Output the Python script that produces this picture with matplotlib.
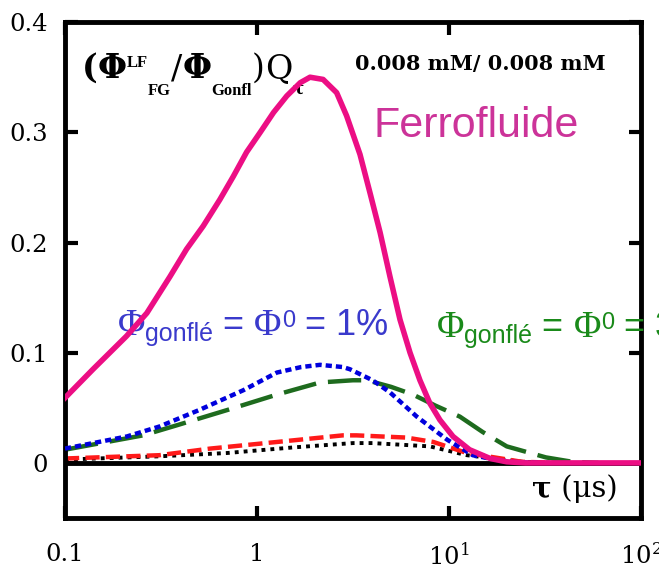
import matplotlib
matplotlib.use("Agg")
import matplotlib.pyplot as plt
from matplotlib.ticker import FixedLocator, NullLocator

plt.rcParams["mathtext.fontset"] = "dejavuserif"

# values (tau in microseconds)
tau_ferro = [0.1, 0.14, 0.209, 0.267, 0.352, 0.43, 0.525, 0.641, 0.753, 0.883, 1.04,
             1.22, 1.43, 1.68, 1.89, 2.21, 2.6, 2.93, 3.44, 3.88, 4.38, 4.93, 5.56,
             6.27, 7.06, 7.96, 8.97, 10.5, 12.8, 16.4, 20, 25, 100]
val_ferro = [0.059, 0.085, 0.115, 0.136, 0.169, 0.194, 0.215, 0.239, 0.26, 0.282, 0.30,
             0.318, 0.333, 0.345, 0.350, 0.348, 0.336, 0.315, 0.280, 0.245, 0.209,
             0.169, 0.130, 0.100, 0.075, 0.054, 0.039, 0.024, 0.012, 0.004, 0.001,
             0.0, 0.0]

tau_blue = [0.1, 0.21, 0.31, 0.5, 0.85, 1.27, 1.7, 2.13, 2.8, 3.05, 4.0, 4.93, 6.8, 9.8,
            13.3, 20, 30]
val_blue = [0.013, 0.024, 0.033, 0.048, 0.066, 0.082, 0.087, 0.089, 0.087, 0.085, 0.075,
            0.064, 0.042, 0.021, 0.007, 0.001, 0.0]

tau_green = [0.1, 0.255, 0.38, 0.7, 1.27, 2.13, 3.16, 3.74, 5.0, 6.5, 8.5, 11.4, 15, 20,
             32, 44, 60]
val_green = [0.012, 0.025, 0.034, 0.048, 0.062, 0.073, 0.075, 0.075, 0.069, 0.062, 0.052,
             0.042, 0.028, 0.015, 0.005, 0.001, 0.0]

tau_red = [0.1, 0.31, 0.57, 1.27, 2.8, 3.3, 6.0, 8.3, 12.4, 24, 40]
val_red = [0.004, 0.007, 0.013, 0.019, 0.025, 0.025, 0.023, 0.019, 0.009, 0.001, 0.0]

tau_black = [0.1, 0.31, 0.7, 1.53, 3.16, 4.0, 7.96, 12.4, 24, 40]
val_black = [0.003, 0.006, 0.009, 0.014, 0.018, 0.018, 0.015, 0.007, 0.001, 0.0]

x_ticks = [0.1, 1, 10, 100]
x_labels = ["0.1", "1", "$10^1$", "$10^2$"]
y_ticks = [0, 0.1, 0.2, 0.3, 0.4]
y_labels = ["0", "0.1", "0.2", "0.3", "0.4"]

fig = plt.figure(figsize=(6.59, 5.70), dpi=100)
ax = fig.add_axes([0.0986, 0.0912, 0.874, 0.870])

ax.axhline(0, color="black", lw=3.5, zorder=1)
ax.plot(tau_black, val_black, color="black", lw=2.8, dashes=(1.0, 1.3), zorder=2)
ax.plot(tau_red, val_red, color="#ff1a1a", lw=3.2, dashes=(3.2, 1.4), zorder=2)
ax.plot(tau_green, val_green, color="#1e6b1e", lw=3.2, dashes=(7.5, 2.7), zorder=2)
ax.plot(tau_blue, val_blue, color="#0000dd", lw=3.2, dashes=(1.4, 0.9), zorder=3)
ax.plot(tau_ferro, val_ferro, color="#ec0e84", lw=4, zorder=4)

ax.set_xscale("log")
ax.set_xlim(0.1, 100)
ax.set_ylim(-0.05, 0.4)
ax.xaxis.set_major_locator(FixedLocator(x_ticks))
ax.xaxis.set_minor_locator(NullLocator())
ax.set_xticklabels(x_labels)
ax.set_yticks(y_ticks)
ax.set_yticklabels(y_labels)
ax.tick_params(direction="in", length=9, width=3, top=True, right=True,
               labelsize=17.5)
ax.tick_params(axis="x", pad=18)
ax.tick_params(axis="y", pad=12)
for lab in ax.get_xticklabels() + ax.get_yticklabels():
    lab.set_family("DejaVu Serif")
for sp in ax.spines.values():
    sp.set_linewidth(3.5)


def chain(pieces, x, y, color="black"):
    prev = None
    for text, size, family, weight, dy in pieces:
        if prev is None:
            xy, coords = (x, y), "axes fraction"
        else:
            xy, coords = (1, y), (prev, "axes fraction")
        prev = ax.annotate(text, xy=xy, xycoords=coords, xytext=(0, dy),
                           textcoords="offset points", fontsize=size,
                           family=family, fontweight=weight, color=color,
                           ha="left", va="baseline", annotation_clip=False)


serif = "DejaVu Serif"
times = "Liberation Serif"
sans = "Liberation Sans"

chain([("(", 24, serif, "bold", 0),
       ("Φ", 24, serif, "bold", 0),
       ("LF", 12, times, "bold", 8),
       ("FG", 12, times, "bold", -12),
       ("/", 24, serif, "normal", 0),
       ("Φ", 24, serif, "bold", 0),
       ("Gonfl", 12, times, "bold", -12),
       (")", 24, serif, "normal", 0),
       ("Q", 24, serif, "normal", 0),
       ("τ", 12, serif, "bold", -11)], 0.0295, 0.887)

ax.text(0.503, 0.915, "0.008 mM/ 0.008 mM", transform=ax.transAxes,
        fontsize=15, family=serif, fontweight="bold", va="center", ha="left")
ax.text(0.535, 0.768, "Ferrofluide", transform=ax.transAxes, fontsize=31,
        family=sans, color="#cc3399", va="baseline", ha="left")

label_pieces = [("Φ", 27, times, "normal", 0),
                ("gonflé", 18, sans, "normal", -4),
                (" = ", 26, sans, "normal", 0),
                ("Φ", 27, times, "normal", 0),
                ("0", 17, sans, "normal", 6)]
chain(label_pieces + [(" = 1%", 26, sans, "normal", 0)], 0.092, 0.369,
      color="#3a3acc")
chain(label_pieces + [(" = 3%", 26, sans, "normal", 0)], 0.646, 0.365,
      color="#1a8a1a")

chain([("τ", 21, serif, "bold", 0),
       (" (μs)", 21, serif, "normal", 0)], 0.811, 0.042)

plt.savefig("out.png", dpi=100)
